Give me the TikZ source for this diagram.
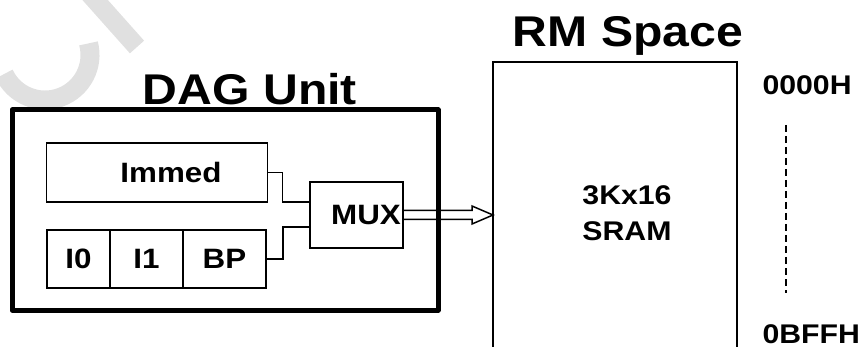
\documentclass[tikz,border=0pt]{standalone}
\usepackage{fontspec}
\setmainfont[FakeStretch=1.12]{Liberation Sans}
\usetikzlibrary{positioning,calc}

\begin{document}
\begin{tikzpicture}[x=1pt,y=-1pt,
  box/.style={draw,line width=1.5pt,inner sep=0pt,outer sep=0pt},
  big/.style={font=\fontsize{43}{43}\selectfont\bfseries},
  txt/.style={font=\fontsize{28}{36}\selectfont\bfseries},
  addr/.style={font=\fontsize{27}{30}\selectfont\bfseries},
  wm/.style={draw=black!12,line width=19pt}]
\useasboundingbox (0,0) rectangle (864,347);
\clip (0,0) rectangle (864,347);
% watermark
\draw [wm] (88,-8)--(137,47);
\draw [wm] (88.5,43.4) .. controls (94.5,65.9) and (82.3,89.3) .. (60.4,97.3)
  .. controls (38.5,105.3) and (14.1,95.2) .. (4.2,74);
% DAG unit
\node [box,line width=5pt,line join=round,minimum width=426pt,minimum height=200pt] (dag) at (225,210) {};
\node [big,anchor=base] (dagtitle) at (250,105) {DAG Unit};
\node [box,txt,minimum width=221pt,minimum height=59pt] (immed) at (157,172.5) {\hspace{28pt}Immed};
\node [box,txt,minimum width=63pt,minimum height=58pt] (i0) at (78.5,259) {I0};
\node [box,txt,minimum width=73pt,minimum height=58pt,anchor=west] (i1) at (i0.east) {I1};
\node [box,txt,minimum width=83pt,minimum height=58pt,anchor=west] (bp) at (i1.east) {BP};
\node [box,txt,minimum width=93pt,minimum height=66pt] (mux) at (356.5,215) {\hspace{19pt}MUX};
\draw [line width=1.5pt] (immed.east) -- ++(15,0) |- ($(mux.west)+(0,-13)$);
\draw [line width=1.5pt] (bp.east) -- ++(17,0) |- ($(mux.west)+(0,12)$);
% RM space
\node [big,anchor=base] (rmtitle) at (628,47) {RM Space};
\node [box,minimum width=244pt,minimum height=300pt,anchor=north west] (sram) at (493,62) {};
\node [txt,font=\fontsize{27}{36}\selectfont\bfseries,align=center] (sramlbl) at (627,213) {3Kx16\\SRAM};
\node [addr,anchor=base west] (addrtop) at (759,95) {0000H};
\node [addr,anchor=base west] (addrbot) at (759,343) {0BFFH};
\draw [line width=2.8pt,dash pattern=on 7pt off 4pt] ($(addrtop.base west)+(27,30)$) -- ($(addrbot.base west)+(27,-50)$);
% hollow arrow MUX -> SRAM
\draw [line width=1.5pt,line join=miter]
  ($(mux.east)+(0,-4.5)$) -- ($(sram.west |- mux.east)+(-21,-4.5)$) -- ++(0,-4.5)
  -- (sram.west |- mux.east) -- ++(-21,9) -- ++(0,-4.5) -- ($(mux.east)+(0,4.5)$);
\end{tikzpicture}
\end{document}
